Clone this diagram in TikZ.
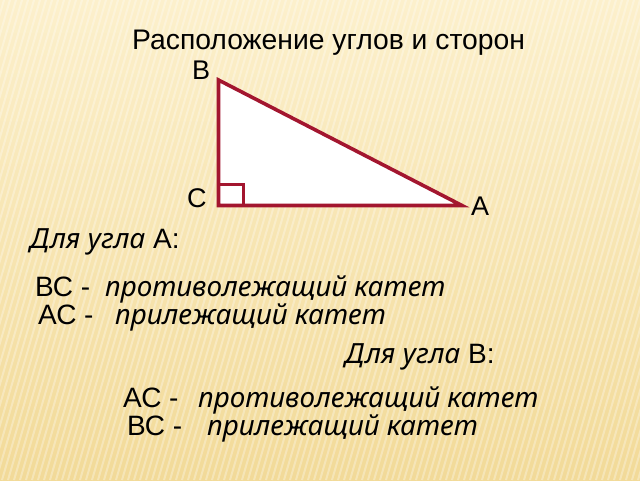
\documentclass[tikz,border=0pt]{standalone}
\usepackage{fontspec}
\setmainfont{Liberation Sans}
\newfontfamily\kursivfont{Noto Sans}
\newcommand\kursiv[1]{{\kursivfont\itshape\fontsize{27.8}{33}\selectfont #1}}
\definecolor{bgtop}{HTML}{FCF0CC}
\definecolor{bgbot}{HTML}{F2DA98}
\definecolor{edge}{HTML}{A3162F}
\tikzset{
  txt/.style={anchor=base west,inner sep=0pt,font=\fontsize{28}{33}\selectfont},
  vlabel/.style={anchor=base west,inner sep=0pt,font=\fontsize{27}{32}\selectfont},
  side/.style={line width=3.6pt,color=edge,line join=miter}
}
\begin{document}
\begin{tikzpicture}[x=1pt,y=-1pt]
        % background
        \useasboundingbox (0,0) rectangle (640,480);
        \shade[top color=bgtop,bottom color=bgbot] (0,0) rectangle (640,480);
        \begin{scope}
          \clip (0,0) rectangle (640,480);
          \foreach \s in {-160,-154,...,640}
            \draw[white,opacity=0.3,line width=2pt] (\s,480) -- (\s+140,0);
        \end{scope}

        \node[txt,font=\fontsize{28.3}{33}\selectfont] (title) at (132,49.5) {Расположение углов и сторон};

        % triangle
        \coordinate (B) at (218.5,80);
        \coordinate (C) at (218.5,205.5);
        \coordinate (A) at (462,205.5);
        \filldraw[side,fill=white] (B) -- (C) -- (A) -- cycle;
        \draw[side] (C) ++(0,-21) -- ++(25,0) -- ++(0,21);

        \node[vlabel] (lB) at (192,79) {B};
        \node[vlabel] (lC) at (187,207) {C};
        \node[vlabel] (lA) at (471,215) {A};

        % angle A
        \node[txt] (angA) at (30,248) {\kursiv{Для угла} А:};
        \node[txt] (bcA) at (35,296) {ВС -};
        \node[txt] (oppA) at (105,296) {\kursiv{противолежащий катет}};
        \node[txt] (acA) at (38,324) {АС -};
        \node[txt] (adjA) at (115,324) {\kursiv{прилежащий катет}};

        % angle B
        \node[txt] (angB) at (345,363) {\kursiv{Для угла} В:};
        \node[txt] (acB) at (123,407.5) {АС -};
        \node[txt] (oppB) at (198,407.5) {\kursiv{противолежащий катет}};
        \node[txt] (bcB) at (127,435) {ВС -};
        \node[txt] (adjB) at (207,435) {\kursiv{прилежащий катет}};
\end{tikzpicture}
\end{document}
